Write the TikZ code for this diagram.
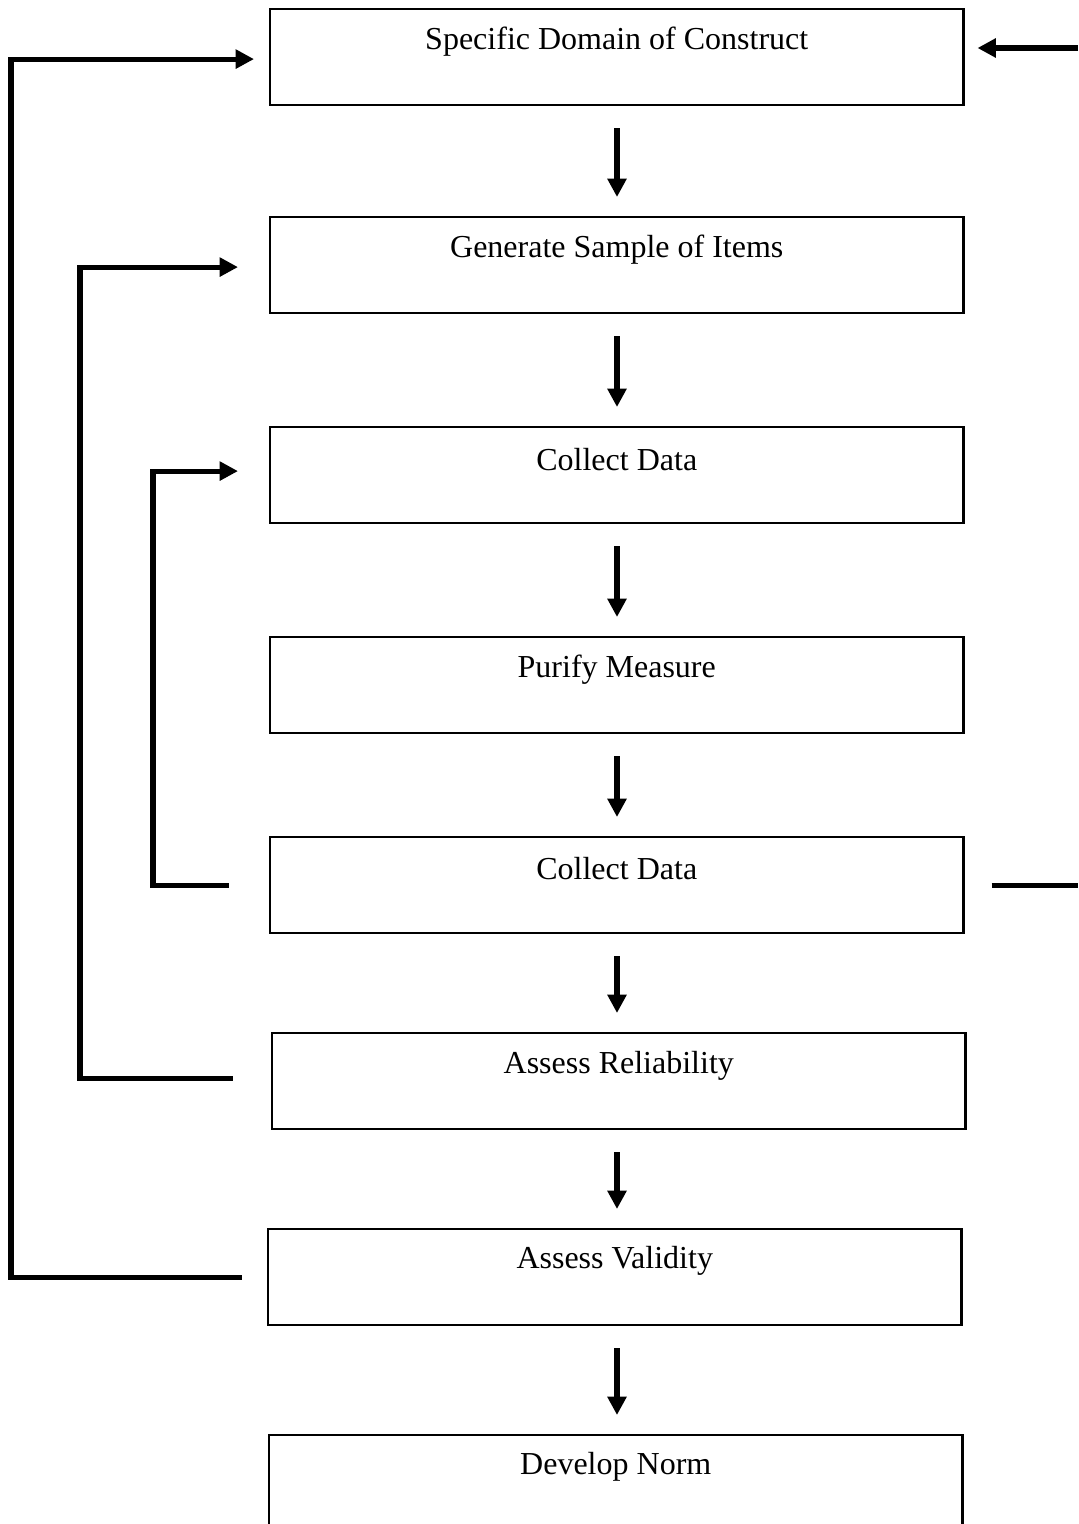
\documentclass[tikz,border=0pt]{standalone}
\usepackage{fontspec}
\setmainfont{Liberation Serif}
\usetikzlibrary{arrows.meta,calc}

\tikzset{
  stage/.style={draw, line width=0.6pt, minimum width=6.93cm, minimum height=0.96cm,
                inner sep=0pt, anchor=north west},
  caption/.style={font=\fontsize{9.1}{11}\selectfont, inner sep=0pt},
  heavy/.style={line width=1.45pt},
  flow/.style={heavy, -{Triangle[length=5.2pt, width=5.2pt]}},
}

\begin{document}
\begin{tikzpicture}[x=0.01cm, y=-0.01cm]
  \useasboundingbox (0,0) rectangle (1078,1524);
  \clip (0,0) rectangle (1078,1524);

  % stages of the procedure
  \node[stage] (b1) at (269,8)    {};
  \node[stage] (b2) at (269,216)  {};
  \node[stage] (b3) at (269,426)  {};
  \node[stage] (b4) at (269,636)  {};
  \node[stage] (b5) at (269,836)  {};
  \node[stage] (b6) at (271,1032) {};
  \node[stage] (b7) at (267,1228) {};
  \node[stage] (b8) at (268,1434) {};

  % stage captions, set near the top of each box
  \node[caption] (t1) at ($(b1.north)+(0,34)$) {Specific Domain of Construct};
  \node[caption] (t2) at ($(b2.north)+(0,34)$) {Generate Sample of Items};
  \node[caption] (t3) at ($(b3.north)+(0,34)$) {Collect Data};
  \node[caption] (t4) at ($(b4.north)+(0,34)$) {Purify Measure};
  \node[caption] (t5) at ($(b5.north)+(0,33)$) {Collect Data};
  \node[caption] (t6) at ($(b6.north)+(0,34)$) {Assess Reliability};
  \node[caption] (t7) at ($(b7.north)+(0,33)$) {Assess Validity};
  \node[caption] (t8) at ($(b8.north)+(0,33)$) {Develop Norm};

  % main downward flow along a common vertical axis
  \coordinate (axis) at (617,0);
  \foreach \a/\b in {b1/b2, b2/b3, b3/b4, b4/b5, b5/b6, b6/b7, b7/b8}
    \draw[flow, shorten <=0.22cm, shorten >=0.19cm]
      (\a.south -| axis) -- (\b.north -| axis);

  % feedback loops on the left
  \coordinate (outer) at (11,0);
  \coordinate (middle) at (80,0);
  \coordinate (inner) at (153,0);

  \draw[flow] ([xshift=-0.25cm]b7.west) coordinate (o0) -- (o0 -| outer)
     |- ([xshift=-0.15cm, yshift=-0.02cm]b1.west);
  \draw[flow] ([xshift=-0.38cm, yshift=0.03cm]b6.west) coordinate (m0) -- (m0 -| middle)
     |- ([xshift=-0.31cm, yshift=-0.02cm]b2.west);
  \draw[flow] ([xshift=-0.40cm]b5.west) coordinate (i0) -- (i0 -| inner)
     |- ([xshift=-0.31cm, yshift=0.04cm]b3.west);

  % feedback on the right
  \coordinate (rin) at (1078,48);
  \coordinate (rout) at (1078,0);
  \draw[flow, shorten >=0.13cm] (rin) -- (rin -| b1.east);
  \draw[heavy] ([xshift=0.27cm]b5.east) -- (b5.east -| rout);
\end{tikzpicture}
\end{document}
